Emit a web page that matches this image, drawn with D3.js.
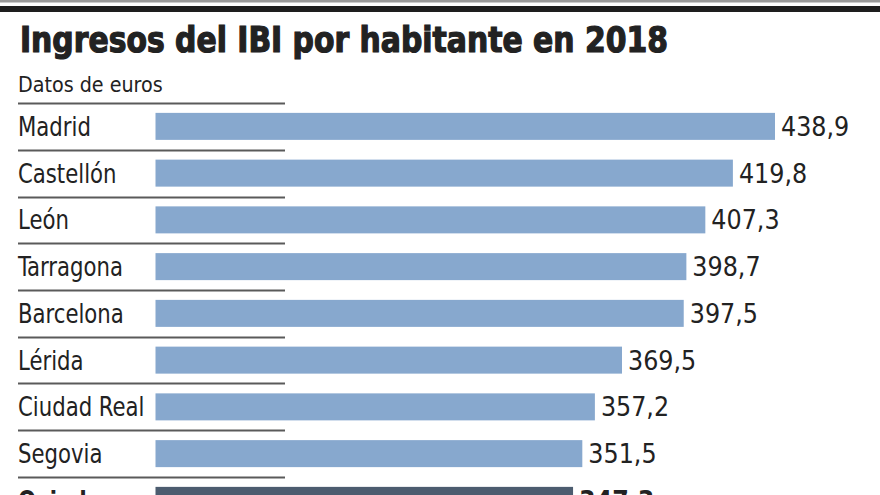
<!DOCTYPE html>
<html>
<head>
<meta charset="utf-8">
<script src="https://cdn.jsdelivr.net/npm/d3@7"></script>
<style>
  html, body { margin: 0; padding: 0; background: #fff; }
  svg { display: block; }
</style>
</head>
<body>
<div id="chart"></div>
<script>
const categories = ["Madrid", "Castellón", "León", "Tarragona", "Barcelona", "Lérida", "Ciudad Real", "Segovia", "Oviedo"];
const values = [438.9, 419.8, 407.3, 398.7, 397.5, 369.5, 357.2, 351.5, 347.3];
const highlight = ["Oviedo"];
const valueLabels = ["438,9", "419,8", "407,3", "398,7", "397,5", "369,5", "357,2", "351,5", "347,3"];
const titleText = "Ingresos del IBI por habitante en 2018";
const subtitleText = "Datos de euros";

const W = 880, H = 495;
const labelFont = "'DejaVu Sans Condensed', 'DejaVu Sans', sans-serif";

const svg = d3.select("#chart").append("svg")
  .attr("width", W).attr("height", H);

// top rules
svg.append("rect").attr("x", 0).attr("y", 0).attr("width", W).attr("height", 2.5).attr("fill", "#9a9a9a");
svg.append("rect").attr("x", 0).attr("y", 6).attr("width", W).attr("height", 6).attr("fill", "#1e1e1e");

// title
svg.append("text")
  .attr("x", 20).attr("y", 52)
  .attr("textLength", 648).attr("lengthAdjust", "spacingAndGlyphs")
  .style("font-family", labelFont)
  .style("font-weight", "bold")
  .style("font-size", "36px")
  .attr("fill", "#222")
  .attr("stroke", "#222").attr("stroke-width", 1.2)
  .text(titleText);

svg.append("text")
  .attr("transform", "translate(18,92) scale(0.99,1)")
  .style("font-family", labelFont)
  .style("font-size", "21.5px")
  .attr("fill", "#222")
  .text(subtitleText);

const x = d3.scaleLinear().domain([157.9, 438.9]).range([155.5, 775]);
const y = d3.scaleBand().domain(categories)
  .range([103, 103 + categories.length * 46.75])
  .paddingInner(0.4225).paddingOuter(0.21125);

const gap = (y.step() - y.bandwidth()) / 2;
const data = categories.map((c, i) => ({ c, v: values[i], lab: valueLabels[i], hi: highlight.includes(c) }));

// separators
svg.append("g").selectAll("line").data(data).join("line")
  .attr("x1", 18).attr("x2", 285)
  .attr("y1", d => Math.round(y(d.c) - gap) + 0.5)
  .attr("y2", d => Math.round(y(d.c) - gap) + 0.5)
  .attr("stroke", "#5a5a5a").attr("stroke-width", 2);

// bars
svg.append("g").selectAll("rect").data(data).join("rect")
  .attr("x", x(157.9))
  .attr("y", d => y(d.c))
  .attr("width", d => x(d.v) - x(157.9))
  .attr("height", y.bandwidth())
  .attr("fill", d => d.hi ? "#4c5c6f" : "#87a8ce");

// category labels
svg.append("g").selectAll("text").data(data).join("text")
  .attr("transform", d => `translate(18,${y(d.c) + y.bandwidth() / 2 + 9.5}) scale(0.89,1)`)
  .style("font-family", labelFont)
  .style("font-size", "26.5px")
  .style("font-weight", d => d.hi ? "bold" : "normal")
  .attr("fill", "#222")
  .text(d => d.c);

// value labels
svg.append("g").selectAll("text").data(data).join("text")
  .attr("x", d => x(d.v) + 6)
  .attr("y", d => y(d.c) + y.bandwidth() / 2 + 9.5)
  .style("font-family", labelFont)
  .style("font-size", "26.5px")
  .style("font-weight", d => d.hi ? "bold" : "normal")
  .attr("fill", "#222")
  .text(d => d.lab);
</script>
</body>
</html>
